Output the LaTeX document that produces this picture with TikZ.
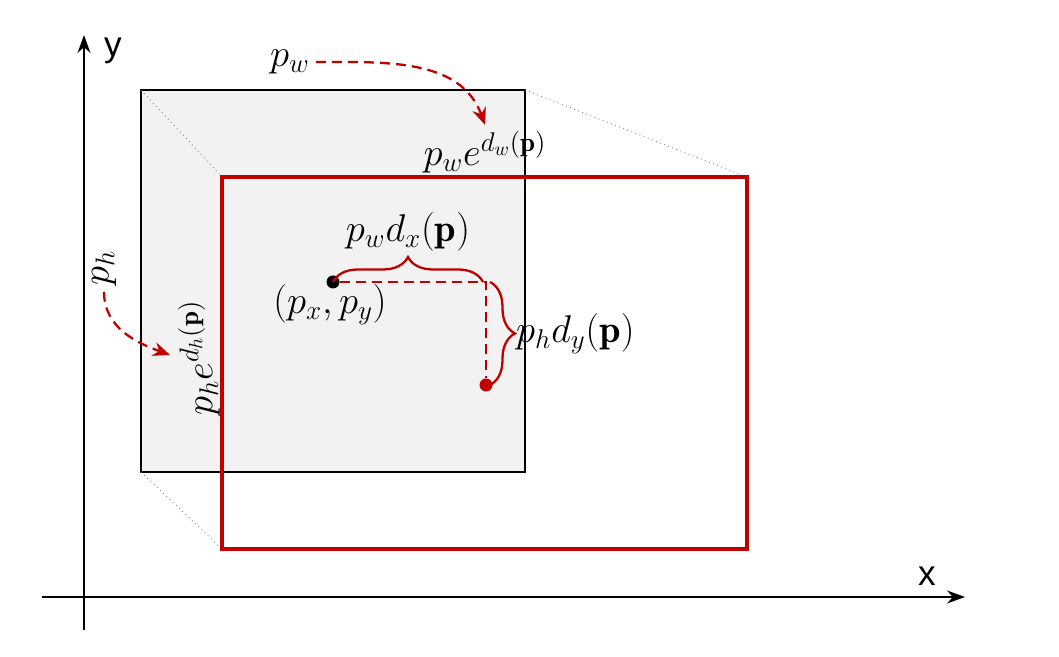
\RequirePackage{fix-cm}
\documentclass[tikz,border=0pt]{standalone}
\usepackage{fontspec}
\newfontfamily\axisfont{Liberation Sans}
\usetikzlibrary{arrows.meta,positioning,calc,decorations.pathreplacing}
\definecolor{boxred}{RGB}{192,0,0}
\definecolor{boxgray}{RGB}{242,242,242}
\begin{document}
\begin{tikzpicture}[>=Stealth,font=\fontsize{22}{26}\selectfont]
\tikzstyle{axisline}=[->,line width=1.1pt,>={Stealth[length=0.36cm,width=0.26cm]}]
\tikzstyle{guide}=[dotted,gray,line width=0.5pt]
\tikzstyle{offline}=[boxred,line width=1.3pt,dash pattern=on 0.2cm off 0.12cm]
\tikzstyle{curvearrow}=[offline,->,>={Stealth[length=0.34cm,width=0.28cm]}]
\tikzstyle{brc}=[boxred,line width=1.3pt,decorate,decoration={brace,amplitude=0.5cm}]
\useasboundingbox (0,0) rectangle (21.18,13.14);
% axes
\coordinate (o1) at (0.84,1.20); \coordinate (xend) at (19.30,1.20);
\coordinate (o2) at (1.68,0.54); \coordinate (yend) at (1.68,12.44);
\draw[axisline] (o1) -- (xend); \draw[axisline] (o2) -- (yend);
\node[font=\axisfont\fontsize{20}{24}\selectfont] (xl) at (18.54,1.62) {x};
\node[font=\axisfont\fontsize{20}{24}\selectfont] (yl) at (2.26,12.12) {y};
% anchor box and predicted box
\coordinate (a1) at (2.82,11.34); \coordinate (a2) at (10.50,11.34); \coordinate (a3) at (2.82,3.70); \coordinate (a4) at (10.50,3.70);
\coordinate (b1) at (4.44,9.60); \coordinate (b2) at (14.94,9.60); \coordinate (b3) at (4.44,2.16); \coordinate (b4) at (14.94,2.16);
\draw[fill=boxgray,line width=1.1pt] (a1) rectangle (a4);
\draw[guide] (a1) -- (b1); \draw[guide] (a2) -- (b2); \draw[guide] (a3) -- (b3);
\draw[boxred,line width=2.4pt] (b1) rectangle (b4);
% centre offset
\node[circle,fill=black,inner sep=0pt,minimum size=0.26cm] (c) at (6.66,7.50) {};
\node[circle,fill=boxred,inner sep=0pt,minimum size=0.26cm] (cn) at (9.72,5.44) {};
\coordinate (k) at (9.72,7.50);
\draw[offline] (c) -- (k) -- (cn);
\node (cl) at (6.60,7.04) {$(p_x,p_y)$};
\draw[brc] (c.center) -- (9.66,7.50) node[midway,above=0.48cm,text=black] (dx) {$p_wd_x(\mathbf{p})$};
\draw[brc] (9.80,7.50) -- (9.80,5.44) node[midway,right=0.5cm,inner sep=0pt,text=black] (dy) {$p_hd_y(\mathbf{p})$};
% width and height
\node (pw) at (5.80,11.90) {$p_w$};
\node (pwe) at (9.70,10.10) {$p_we^{d_w(\mathbf{p})}$};
\draw[curvearrow] (pw.east) to[out=0,in=110] (pwe.north);
\node[rotate=90] (ph) at (2.08,7.78) {$p_h$};
\node[rotate=90] (phe) at (3.98,5.98) {$p_he^{d_h(\mathbf{p})}$};
\coordinate (phtip) at (3.40,6.04);
\draw[curvearrow] (ph.west) to[out=-90,in=160] (phtip);
\end{tikzpicture}
\end{document}
